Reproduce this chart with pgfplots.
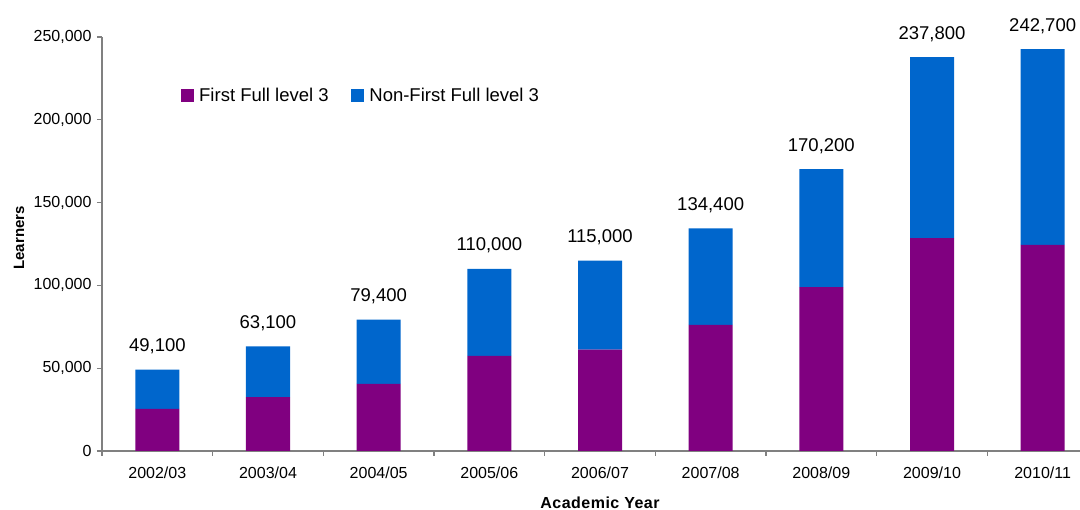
\documentclass[border=0pt]{standalone}
\usepackage{fontspec}
\setmainfont{Liberation Sans}
\newfontfamily\lblfont[LetterSpace=3]{Liberation Sans}
\usepackage{pgfplots}
\pgfplotsset{compat=1.18}
\usepackage{pgfplotstable}
\definecolor{cpurple}{RGB}{128,0,128}
\definecolor{cblue}{RGB}{0,102,204}
\definecolor{caxis}{RGB}{128,128,128}

\pgfplotstableread{
x p b t lab
0 25400 23700 49100 49,100
1 32600 30500 63100 63,100
2 40500 38900 79400 79,400
3 57400 52600 110000 110,000
4 61200 53800 115000 115,000
5 76100 58300 134400 134,400
6 99000 71200 170200 170,200
7 128600 109200 237800 237,800
8 124400 118300 242700 242,700
}\data

\begin{document}
\begin{tikzpicture}[x=1pt,y=1pt]
\begin{axis}[
  at={(102pt,59pt)}, anchor=south west,
  scale only axis, width=996pt, height=414pt,
  ybar stacked, bar width=44pt,
  xmin=-0.5, xmax=8.5, ymin=0, ymax=250000,
  enlarge x limits=false, enlarge y limits=false,
  clip=false,
  axis lines*=left,
  axis line style={caxis, line width=1.3pt},
  tick style={caxis, line width=1.3pt},
  tick align=outside,
  major tick length=5pt,
  xtick={-0.5,0.5,...,8.5},
  xticklabels={},
  extra x ticks={0,1,2,3,4,5,6,7,8},
  extra x tick labels={2002/03,2003/04,2004/05,2005/06,2006/07,2007/08,2008/09,2009/10,2010/11},
  extra x tick style={major tick length=0pt},
  ytick={0,50000,100000,150000,200000,250000},
  scaled y ticks=false,
  /pgf/number format/.cd, fixed, 1000 sep={,}, assume math mode=true,
  /pgfplots/.cd,
  tick label style={font=\fontsize{16}{19}\selectfont, black},
  x tick label style={yshift=-12pt},
  y tick label style={xshift=-2pt},
  xlabel={\lblfont\bfseries Academic Year},
  ylabel={\bfseries Learners},
  xlabel style={at={(axis description cs:0.5,-0.1384)}, anchor=base, font=\fontsize{16}{19}\selectfont},
  ylabel style={at={(axis description cs:-0.0783,0.5145)}, anchor=base, font=\fontsize{15}{18}\selectfont},
  legend columns=2,
  legend image code/.code={\fill[#1] (0pt,-6.5pt) rectangle (13pt,6.5pt); \path (16pt,0pt);},
  legend style={at={(axis description cs:0.0788,0.8587)}, anchor=west,
    draw=none, fill=none, inner sep=0pt,
    font=\fontsize{18.5}{22}\selectfont,
    nodes={inner xsep=2.5pt, inner ysep=0pt},
    /tikz/every even column/.append style={column sep=19.7pt}},
]
\addplot[fill=cpurple, draw=none] table[x=x, y=p] {\data};
\addplot[fill=cblue, draw=none] table[x=x, y=b] {\data};
\legend{First Full level 3, Non-First Full level 3}
\end{axis}
\begin{axis}[
  at={(102pt,59pt)}, anchor=south west,
  scale only axis, width=996pt, height=414pt,
  xmin=-0.5, xmax=8.5, ymin=0, ymax=250000,
  hide axis, clip=false,
  every node near coord/.append style={font=\fontsize{18.5}{22}\selectfont, black, inner sep=0pt, yshift=15.5pt},
]
\addplot[draw=none, mark=none, nodes near coords, point meta=explicit symbolic] table[x=x, y=t, meta=lab] {\data};
\end{axis}
\pgfresetboundingbox
\path[use as bounding box] (0,0) rectangle (1080,510);
\end{tikzpicture}
\end{document}
